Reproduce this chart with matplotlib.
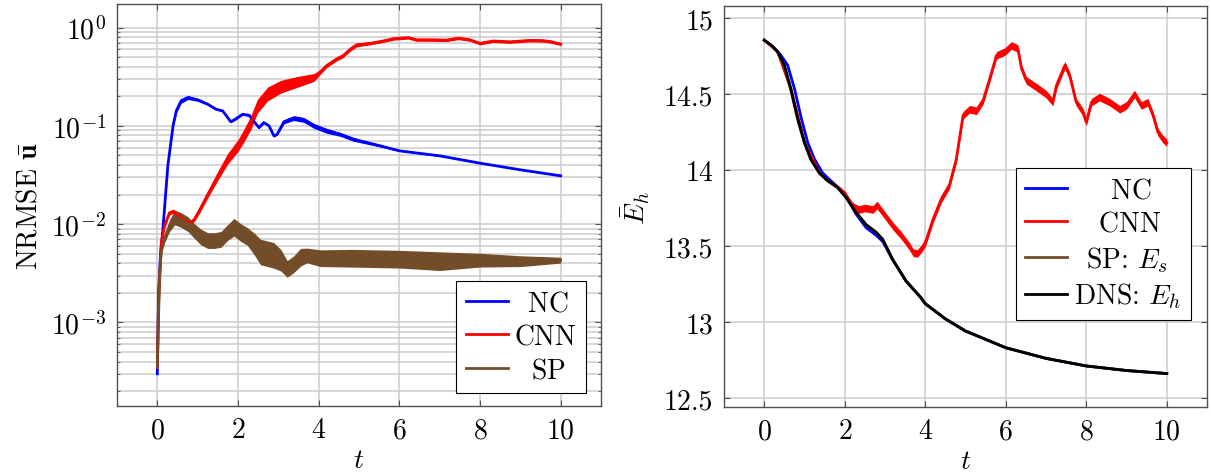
import numpy as np
import matplotlib
matplotlib.use("Agg")
import matplotlib.pyplot as plt
from matplotlib.ticker import LogLocator, NullFormatter, FuncFormatter, MultipleLocator

plt.rcParams["font.family"] = "serif"
plt.rcParams["font.serif"] = ["cmr10", "DejaVu Serif"]
plt.rcParams["mathtext.fontset"] = "cm"
plt.rcParams["axes.formatter.use_mathtext"] = True
plt.rcParams["font.size"] = 20

# ---- left panel: NRMSE of u-bar (log scale) ----
nc_t = [0, 0.03, 0.08, 0.14, 0.26, 0.39, 0.47, 0.59, 0.76, 1.0, 1.25, 1.45, 1.62, 1.74, 1.82,
        1.95, 2.11, 2.28, 2.4, 2.52, 2.64, 2.77, 2.89, 2.97, 3.14, 3.38, 3.63, 3.88, 4.2,
        4.53, 4.86, 5.5, 6.0, 7.0, 8.0, 9.0, 10.0]
nc_v = [3.0e-4, 2.0e-3, 5.0e-3, 0.009, 0.039, 0.10, 0.142, 0.18, 0.194, 0.184, 0.166, 0.148,
        0.142, 0.122, 0.11, 0.118, 0.131, 0.128, 0.11, 0.096, 0.108, 0.10, 0.079, 0.082, 0.11,
        0.12, 0.115, 0.10, 0.089, 0.082, 0.073, 0.063, 0.0557, 0.0495, 0.0417, 0.0357, 0.031]
nc_hw = [0, 0, 0, 0, 0.01, 0.02, 0.025, 0.025, 0.02, 0.015, 0.01, 0.01, 0.01, 0.01, 0.01,
         0.01, 0.01, 0.01, 0.01, 0.01, 0.01, 0.01, 0.01, 0.01, 0.02, 0.025, 0.025, 0.025, 0.025,
         0.02, 0.02, 0.012, 0.005, 0.004, 0.003, 0.002, 0.0]

cnn_t = [0, 0.03, 0.1, 0.18, 0.3, 0.4, 0.55, 0.7, 0.84, 0.92, 1.04, 1.25, 1.5, 1.74, 2.0,
         2.15, 2.32, 2.48, 2.73, 3.06, 3.47, 3.88, 4.03, 4.2, 4.45, 4.6, 4.78, 4.94, 5.27, 5.6,
         5.85, 6.22, 6.43, 6.84, 7.17, 7.46, 7.75, 8.0, 8.33, 8.74, 9.24, 9.57, 9.74, 10.0]
cnn_v = [3.5e-4, 1.5e-3, 0.0065, 0.0096, 0.013, 0.0135, 0.012, 0.0105, 0.0105, 0.0112, 0.0137,
         0.020, 0.031, 0.046, 0.063, 0.08, 0.108, 0.158, 0.21, 0.25, 0.28, 0.31, 0.35, 0.41,
         0.48, 0.515, 0.60, 0.666, 0.69, 0.73, 0.77, 0.79, 0.75, 0.75, 0.745, 0.78, 0.75, 0.69,
         0.73, 0.715, 0.74, 0.735, 0.72, 0.68]
cnn_hw = [0, 0, 0.01, 0.02, 0.02, 0.02, 0.02, 0.02, 0.02, 0.02, 0.03, 0.035, 0.045, 0.055, 0.06,
          0.065, 0.07, 0.07, 0.07, 0.065, 0.055, 0.04, 0.025, 0.02, 0.02, 0.02, 0.02, 0.02, 0.015,
          0.015, 0.015, 0.015, 0.015, 0.015, 0.015, 0.015, 0.015, 0.015, 0.015, 0.015, 0.015,
          0.015, 0.015, 0.015]

sp_t = [0, 0.02, 0.06, 0.1, 0.18, 0.3, 0.43, 0.59, 0.76, 0.92, 1.08, 1.25, 1.41, 1.58, 1.74,
        1.9, 2.07, 2.23, 2.4, 2.56, 2.73, 2.89, 3.06, 3.22, 3.38, 3.55, 3.71, 4.04, 4.8, 6.0,
        7.0, 8.0, 9.0, 10.0]
sp_v = [3.5e-4, 8e-4, 0.0032, 0.0054, 0.0071, 0.0096, 0.0117, 0.011, 0.010, 0.0085, 0.0074,
        0.0068, 0.0068, 0.007, 0.0082, 0.0093, 0.0082, 0.0075, 0.0063, 0.0052, 0.005, 0.0048,
        0.0043, 0.0035, 0.0039, 0.0046, 0.0048, 0.0045, 0.0045, 0.0044, 0.0042, 0.0043,
        0.0042, 0.0043]
sp_hw = [0, 0, 0.02, 0.03, 0.04, 0.06, 0.075, 0.075, 0.075, 0.075, 0.08, 0.08, 0.08, 0.08, 0.08,
         0.09, 0.09, 0.09, 0.11, 0.13, 0.13, 0.13, 0.11, 0.085, 0.085, 0.09, 0.075, 0.085, 0.09,
         0.09, 0.095, 0.07, 0.055, 0.03]

# ---- right panel: mean energy ----
dns_t = [0, 0.2, 0.33, 0.5, 0.66, 0.83, 1.0, 1.16, 1.37, 1.57, 1.82, 2.03, 2.28, 2.53, 2.78,
         2.94, 3.19, 3.52, 3.89, 4.0, 4.5, 5.0, 6.0, 7.0, 8.0, 9.0, 10.0]
dns_e = [14.855, 14.815, 14.78, 14.69, 14.535, 14.34, 14.18, 14.07, 13.98, 13.93, 13.885,
         13.82, 13.72, 13.64, 13.59, 13.544, 13.41, 13.27, 13.16, 13.12, 13.02, 12.94, 12.83,
         12.76, 12.71, 12.68, 12.66]
sp_e = [14.855, 14.815, 14.775, 14.68, 14.525, 14.33, 14.175, 14.065, 13.98, 13.93, 13.885,
        13.82, 13.72, 13.64, 13.59, 13.544, 13.41, 13.27, 13.16, 13.12, 13.02, 12.94, 12.83,
        12.76, 12.71, 12.68, 12.66]
ncr_t = [0, 0.2, 0.4, 0.58, 0.75, 0.92, 1.08, 1.25, 1.45, 1.65, 1.88, 2.05, 2.28, 2.53, 2.78,
         2.94, 3.19, 3.52, 3.89, 4.0, 4.5, 5.0, 6.0, 7.0, 8.0, 9.0, 10.0]
ncr_e = [14.855, 14.815, 14.76, 14.69, 14.535, 14.34, 14.18, 14.07, 13.98, 13.93, 13.875,
         13.82, 13.71, 13.62, 13.57, 13.53, 13.41, 13.27, 13.16, 13.12, 13.02, 12.94, 12.83,
         12.76, 12.71, 12.68, 12.66]
cnnr_t = [0, 0.33, 0.66, 1.0, 1.37, 1.57, 1.82, 2.0, 2.2, 2.35, 2.5, 2.7, 2.8, 3.0, 3.2, 3.4,
          3.6, 3.7, 3.8, 3.9, 4.0, 4.2, 4.4, 4.6, 4.77, 4.94, 5.1, 5.27, 5.44, 5.6, 5.77, 5.98,
          6.14, 6.3, 6.39, 6.51, 6.76, 7.0, 7.17, 7.26, 7.47, 7.59, 7.75, 7.92, 8.0, 8.13, 8.33,
          8.58, 8.83, 9.0, 9.2, 9.37, 9.53, 9.66, 9.78, 9.9, 10.0]
cnnr_e = [14.855, 14.78, 14.535, 14.18, 13.98, 13.93, 13.89, 13.85, 13.76, 13.74, 13.75,
          13.74, 13.77, 13.70, 13.63, 13.57, 13.50, 13.456, 13.45, 13.48, 13.52, 13.68, 13.81,
          13.90, 14.07, 14.36, 14.40, 14.39, 14.46, 14.60, 14.755, 14.78, 14.82, 14.80, 14.67,
          14.59, 14.546, 14.50, 14.447, 14.557, 14.69, 14.62, 14.447, 14.38, 14.315, 14.447,
          14.48, 14.447, 14.40, 14.425, 14.50, 14.425, 14.447, 14.36, 14.25, 14.205, 14.18]
cnnr_hw = [0, 0, 0, 0, 0, 0, 0, 0.01] + [0.025] * 49

# legend labels (leading math spaces mimic the centred pgfplots legend text)
left_labels = [r"$\enspace$NC", "CNN", r"$\enspace\,$SP"]
right_labels = [r"$\quad\enspace$NC", r"$\quad$CNN", r"$\enspace$SP: $E_s$", "DNS: $E_h$"]

BLUE = "#0000ff"
RED = "#ff0000"
BROWN = "#734d29"
GRID = "#cccccc"
SPINE = "#505050"


def style_axes(ax):
    for s in ax.spines.values():
        s.set_color(SPINE)
        s.set_linewidth(1.0)
    ax.tick_params(which="both", direction="in", top=True, right=True, color=SPINE,
                   labelsize=20, pad=8)
    ax.tick_params(which="major", length=4, width=0.8)
    ax.tick_params(which="minor", length=2.5, width=0.6)
    ax.set_axisbelow(True)
    ax.set_xlim(-1, 11)
    ax.xaxis.set_major_locator(MultipleLocator(2))
    ax.set_xlabel("$t$", fontsize=20, labelpad=2)


def log_band(ax, t, v, hw, color):
    v = np.array(v)
    hw = np.array(hw)
    ax.fill_between(t, v * 10 ** -hw, v * 10 ** hw, color=color, linewidth=0)


def add_legend(ax, anchor):
    leg = ax.legend(loc="lower right", bbox_to_anchor=anchor, borderaxespad=0,
                    fontsize=20, fancybox=False, edgecolor="black", framealpha=1,
                    handlelength=1.5, handletextpad=0.25, borderpad=0.35, labelspacing=0.25)
    leg.get_frame().set_linewidth(0.8)
    return leg


fig = plt.figure(figsize=(12.11, 4.77), dpi=100)
ax1 = fig.add_axes([0.0966, 0.1468, 0.3997, 0.8428])
ax2 = fig.add_axes([0.5979, 0.1447, 0.3988, 0.8407])

# left
ax1.set_yscale("log")
log_band(ax1, nc_t, nc_v, nc_hw, BLUE)
ax1.plot(nc_t, nc_v, color=BLUE, lw=2, label=left_labels[0])
log_band(ax1, cnn_t, cnn_v, cnn_hw, RED)
ax1.plot(cnn_t, cnn_v, color=RED, lw=2, label=left_labels[1])
log_band(ax1, sp_t, sp_v, sp_hw, BROWN)
ax1.plot(sp_t, sp_v, color=BROWN, lw=2, label=left_labels[2])
ax1.set_ylim(10 ** -3.85, 10 ** 0.24)
ax1.yaxis.set_major_locator(LogLocator(base=10, numticks=10))
ax1.yaxis.set_minor_locator(LogLocator(base=10, subs=np.arange(2, 10), numticks=20))
ax1.yaxis.set_minor_formatter(NullFormatter())
ax1.grid(True, which="major", color=GRID, lw=1.1)
ax1.grid(True, which="minor", color=GRID, lw=1.1)
ax1.set_ylabel(r"NRMSE $\bar{\mathbf{u}}$", fontsize=20, labelpad=6)
style_axes(ax1)
add_legend(ax1, (0.969, 0.032))

# right
ax2.plot(ncr_t, ncr_e, color=BLUE, lw=2, label=right_labels[0])
ax2.fill_between(cnnr_t, np.array(cnnr_e) - np.array(cnnr_hw),
                 np.array(cnnr_e) + np.array(cnnr_hw), color=RED, linewidth=0)
ax2.plot(cnnr_t, cnnr_e, color=RED, lw=2, label=right_labels[1])
ax2.plot(dns_t, sp_e, color=BROWN, lw=2, label=right_labels[2])
ax2.plot(dns_t, dns_e, color="black", lw=2, label=right_labels[3])
ax2.set_ylim(12.44, 15.08)
ax2.yaxis.set_major_locator(MultipleLocator(0.5))
ax2.yaxis.set_major_formatter(FuncFormatter(lambda v, p: "%g" % v))
ax2.grid(True, which="major", color=GRID, lw=1.1)
ax2.set_ylabel(r"$\bar{E}_h$", fontsize=20, labelpad=8)
style_axes(ax2)
add_legend(ax2, (0.967, 0.217))

fig.savefig("out.png", dpi=100)
